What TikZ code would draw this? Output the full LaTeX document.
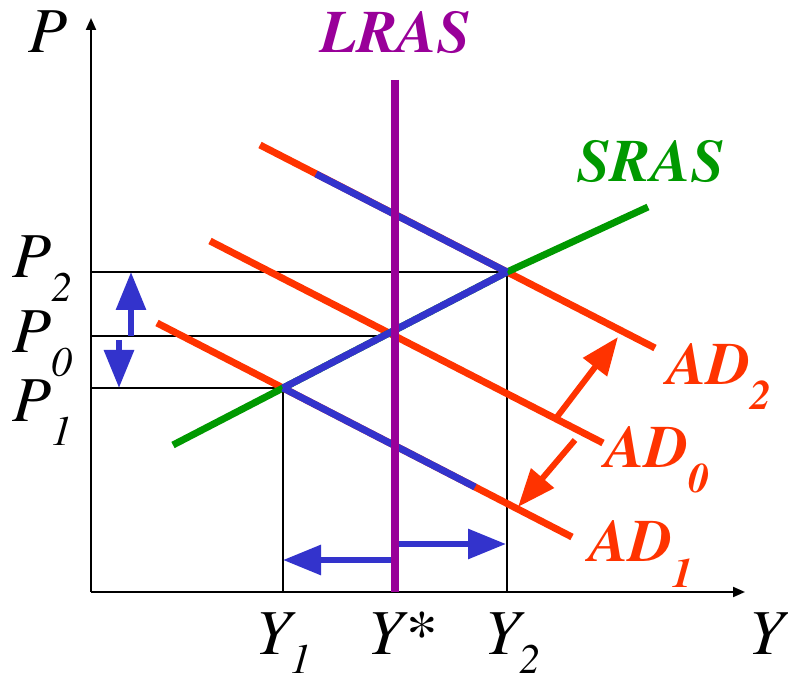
\documentclass[tikz,border=0pt]{standalone}
\usepackage{fontspec}
\setmainfont{texgyretermes}[
    Extension=.otf,
    UprightFont=*-regular,
    BoldFont=*-bold,
    ItalicFont=*-italic,
    BoldItalicFont=*-bolditalic]
\usetikzlibrary{arrows.meta}

\definecolor{adred}{HTML}{FF3300}
\definecolor{shiftblue}{HTML}{3333CC}
\definecolor{srasgreen}{HTML}{009900}
\definecolor{lraspurple}{HTML}{990099}

\newcommand{\subdig}[2][24pt]{\raisebox{-#1}{\fontsize{42}{42}\selectfont #2}}

\begin{document}
\begin{tikzpicture}[
        x=1pt, y=-1pt,
        axis/.style={line width=2pt, -{Triangle[length=12pt,width=10pt]}},
        guide/.style={line width=2pt},
        curve/.style={line width=7pt},
        shiftarrow/.style={line width=6pt, -{Triangle[length=38pt,width=29pt]}},
        lab/.style={anchor=base west, inner sep=0pt, font=\fontsize{64}{64}\selectfont\itshape},
        curvelab/.style={inner sep=0pt, font=\fontsize{60}{60}\selectfont\bfseries\itshape}
    ]
    \useasboundingbox (0,0) rectangle (788,684);

    % =========================
    % Axes
    % =========================
    \coordinate (O)    at (91,592);
    \coordinate (ytop) at (91,18);
    \coordinate (xend) at (745,592);
    \draw[axis] (O) -- (ytop);
    \draw[axis] (O) -- (xend);

    \node[lab] (plab) at (28,53) {P};
    \node[lab] (ylab) at (748,654) {Y};

    % =========================
    % Equilibria and guide lines
    % =========================
    \coordinate (E0) at (395,336);
    \coordinate (E1) at (283,388);
    \coordinate (E2) at (507,272);

    \coordinate (P0) at (91,336);
    \coordinate (P1) at (91,388);
    \coordinate (P2) at (91,272);
    \coordinate (Y1) at (283,592);
    \coordinate (Y2) at (507,592);

    \draw[guide] (P2) -- (E2) -- (Y2);
    \draw[guide] (P0) -- (E0);
    \draw[guide] (P1) -- (E1) -- (Y1);

    \node[lab] (p2lab) at (12,278) {P\subdig{2}};
    \node[lab] (p0lab) at (12,353) {P\subdig{0}};
    \node[lab] (p1lab) at (12,422) {P\subdig{1}};

    \node[lab] (y1lab) at (255,654) {Y\subdig[20pt]{1}};
    \node[lab] (yslab) at (367,654) {Y*};
    \node[lab] (y2lab) at (484,654) {Y\subdig[20pt]{2}};

    % =========================
    % Aggregate demand
    % =========================
    \coordinate (ad2a) at (260,145);
    \coordinate (ad2b) at (655,348);
    \coordinate (ad0a) at (210,241);
    \coordinate (ad0b) at (603,443);
    \coordinate (ad1a) at (157,323);
    \coordinate (ad1b) at (572,537);

    \draw[curve, adred] (ad2a) -- (ad2b);
    \draw[curve, adred] (ad0a) -- (ad0b);
    \draw[curve, adred] (ad1a) -- (ad1b);

    \node[curvelab, adred, anchor=base west] (ad2lab) at (667,385) {AD\subdig[25pt]{2}};
    \node[curvelab, adred, anchor=base west] (ad0lab) at (605,468) {AD\subdig[25pt]{0}};
    \node[curvelab, adred, anchor=base west] (ad1lab) at (589,562) {AD\subdig[25pt]{1}};

    % demand shifts
    \coordinate (up0) at (557,417);
    \coordinate (up2) at (618,337);
    \coordinate (dn0) at (575,440);
    \coordinate (dn1) at (518,507);
    \draw[shiftarrow, adred] (up0) -- (up2);
    \draw[shiftarrow, adred] (dn0) -- (dn1);

    % =========================
    % Short-run supply
    % =========================
    \coordinate (srasa) at (173,445);
    \coordinate (srasb) at (648,207);
    \draw[curve, srasgreen] (srasa) -- (E1) -- (E2) -- (srasb);
    \node[curvelab, srasgreen, anchor=base] (saslab) at (651,182) {SRAS};

    % =========================
    % Adjustment path
    % =========================
    \coordinate (hiA) at (316,174);
    \coordinate (loB) at (475,487);
    \draw[curve, shiftblue] (hiA) -- (E2);
    \draw[curve, shiftblue] (E1) -- (E2);
    \draw[curve, shiftblue] (E1) -- (loB);

    \coordinate (pu0) at (131,336);
    \coordinate (pu2) at (131,272);
    \coordinate (pd0) at (119,340);
    \coordinate (pd1) at (119,388);
    \draw[shiftarrow, shiftblue] (pu0) -- (pu2);
    \draw[shiftarrow, shiftblue] (pd0) -- (pd1);

    \coordinate (yl0) at (395,560);
    \coordinate (yl1) at (283,560);
    \coordinate (yr0) at (396,544);
    \coordinate (yr2) at (506,544);
    \draw[shiftarrow, shiftblue] (yl0) -- (yl1);
    \draw[shiftarrow, shiftblue] (yr0) -- (yr2);

    % =========================
    % Long-run supply
    % =========================
    \coordinate (lrasa) at (395,80);
    \coordinate (lrasb) at (395,592);
    \draw[line width=8pt, lraspurple] (lrasa) -- (lrasb);
    \node[curvelab, lraspurple, anchor=base] (laslab) at (396,53) {LRAS};

    \end{tikzpicture}
\end{document}
